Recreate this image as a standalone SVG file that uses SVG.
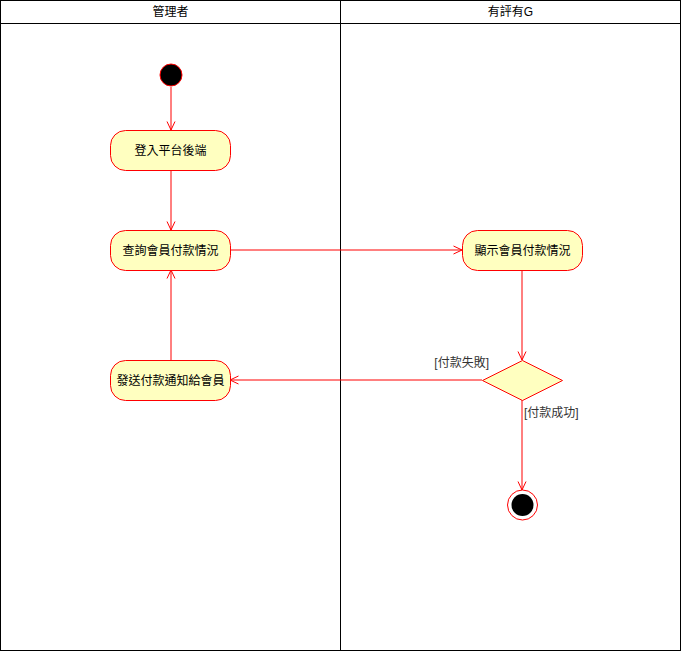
<svg xmlns="http://www.w3.org/2000/svg" width="681" height="651" viewBox="0 0 681 651">
<defs>
<style>
text{font-family:"Liberation Sans","Noto Sans CJK TC",sans-serif;font-size:12px;fill:#000}
.lane{fill:#fff;stroke:#000;stroke-width:1}
.act{fill:#ffffc0;stroke:#ff0000;stroke-width:1}
.edge{fill:none;stroke:#ff0000;stroke-width:1;marker-end:url(#open)}
.lbl{fill:#333}
</style>
<marker id="open" viewBox="0 0 10 10" refX="9.5" refY="5" markerWidth="10" markerHeight="10" markerUnits="userSpaceOnUse" orient="auto">
<path d="M1,1 L9.5,5 L1,9" fill="none" stroke="#ff0000" stroke-width="1"/>
</marker>
</defs>
<rect x="0" y="0" width="681" height="651" fill="#fff"/>
<g id="lanes">
<rect class="lane" x="0.5" y="0.5" width="340" height="650"/>
<rect class="lane" x="340.5" y="0.5" width="340" height="650"/>
<line x1="0.5" y1="23.5" x2="680.5" y2="23.5" stroke="#000"/>
<text x="170.5" y="16" text-anchor="middle">管理者</text>
<text x="510.5" y="16" text-anchor="middle">有評有G</text>
</g>
<g id="connectors">
<line class="edge" x1="171" y1="87" x2="171" y2="130"/>
<line class="edge" x1="171" y1="170" x2="171" y2="230"/>
<line class="edge" x1="230" y1="250" x2="462" y2="250"/>
<line class="edge" x1="522" y1="270" x2="522" y2="360"/>
<line class="edge" x1="482" y1="380" x2="230" y2="380"/>
<line class="edge" x1="171" y1="360" x2="171" y2="270"/>
<line class="edge" x1="522" y1="400" x2="522" y2="490"/>
<text class="lbl" x="489" y="367" text-anchor="end">[付款失敗]</text>
<text class="lbl" x="524" y="417">[付款成功]</text>
</g>
<g id="start">
<circle cx="171" cy="75" r="11" fill="#000" stroke="#ff0000" stroke-width="1"/>
</g>
<g id="login">
<rect class="act" x="110.5" y="130.5" width="120" height="40" rx="15"/>
<text x="170.5" y="155" text-anchor="middle">登入平台後端</text>
</g>
<g id="query">
<rect class="act" x="110.5" y="230.5" width="120" height="40" rx="15"/>
<text x="170.5" y="255" text-anchor="middle">查詢會員付款情況</text>
</g>
<g id="show">
<rect class="act" x="462.5" y="230.5" width="120" height="40" rx="15"/>
<text x="522.5" y="255" text-anchor="middle">顯示會員付款情況</text>
</g>
<g id="notify">
<rect class="act" x="110.5" y="360.5" width="120" height="40" rx="15"/>
<text x="170.5" y="385" text-anchor="middle">發送付款通知給會員</text>
</g>
<g id="decision">
<polygon class="act" points="522.5,360.5 562.5,380.5 522.5,400.5 482.5,380.5"/>
</g>
<g id="end">
<circle cx="522.5" cy="505" r="15" fill="none" stroke="#ff0000" stroke-width="1"/>
<circle cx="522.5" cy="505" r="11" fill="#000"/>
</g>
</svg>
